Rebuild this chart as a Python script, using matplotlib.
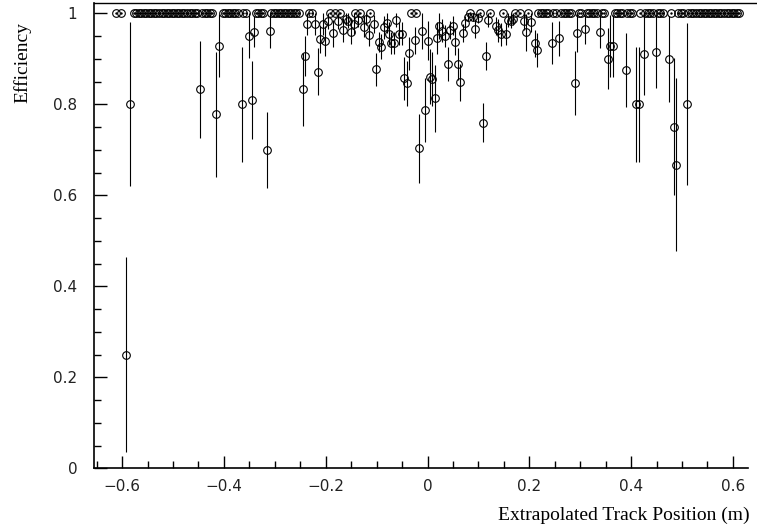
import matplotlib.pyplot as plt
import numpy as np
from matplotlib.ticker import MultipleLocator, FuncFormatter

# 5 mm bins in extrapolated track position
bin_width = 0.005
bin_lo, bin_hi = -0.615, 0.615

# position ranges (m) where every bin is fully efficient (eff = 1, zero error)
full_runs = [
    (-0.612, -0.612), (-0.6016, -0.6016), (-0.580, -0.4208), (-0.4057, -0.354),
    (-0.337, -0.3246), (-0.3075, -0.2525), (-0.2314, -0.2314), (-0.225, -0.225),
    (-0.2053, -0.2053), (-0.1902, -0.1902), (-0.1804, -0.1804), (-0.1713, -0.1713),
    (-0.1418, -0.1418), (-0.132, -0.132), (-0.1116, -0.1116), (-0.0318, -0.0318),
    (-0.022, -0.022), (0.0841, 0.0841), (0.0939, 0.0939), (0.1037, 0.1037),
    (0.1234, 0.1234), (0.1312, 0.1312), (0.1489, 0.1489), (0.1719, 0.1719),
    (0.1804, 0.1804), (0.187, 0.187), (0.1974, 0.1974), (0.2196, 0.2825),
    (0.2996, 0.3481), (0.3664, 0.4621), (0.477, 0.477), (0.4921, 0.6126),
]

# bins below full efficiency: position (m), efficiency, error
pos = [-0.592, -0.585, -0.446, -0.416, -0.4096, -0.365, -0.3507, -0.3455, -0.341,
       -0.316, -0.310, -0.245, -0.2407, -0.236, -0.2204, -0.2145, -0.211, -0.205,
       -0.2007, -0.1955, -0.1857, -0.176, -0.1654, -0.1607, -0.156, -0.151, -0.145,
       -0.1365, -0.1254, -0.120, -0.1156, -0.1058, -0.1005, -0.0959, -0.0914,
       -0.0855, -0.080, -0.0756, -0.071, -0.0658, -0.0613, -0.056, -0.050, -0.0455,
       -0.040, -0.0357, -0.0252, -0.016, -0.0108, -0.005, 0.0, 0.0043, 0.0088,
       0.0147, 0.0193, 0.0233, 0.0278, 0.035, 0.0396, 0.0442, 0.0495, 0.0547,
       0.0593, 0.0645, 0.0704, 0.0743, 0.079, 0.0888, 0.094, 0.0992, 0.1097,
       0.1143, 0.1195, 0.1346, 0.139, 0.1438, 0.1542, 0.1587, 0.1634, 0.1686,
       0.189, 0.1935, 0.204, 0.2106, 0.2145, 0.2446, 0.259, 0.289, 0.2943, 0.3088,
       0.3395, 0.354, 0.358, 0.365, 0.389, 0.4096, 0.415, 0.4247, 0.449, 0.474,
       0.4843, 0.4889, 0.5098]
eff = [0.25, 0.80, 0.833, 0.778, 0.929, 0.80, 0.951, 0.809, 0.960,
       0.70, 0.962, 0.833, 0.907, 0.976, 0.976, 0.872, 0.943, 0.976,
       0.940, 0.983, 0.956, 0.983, 0.963, 0.987, 0.984, 0.960, 0.977,
       0.985, 0.971, 0.987, 0.952, 0.976, 0.877, 0.938, 0.927,
       0.969, 0.978, 0.955, 0.934, 0.934, 0.985, 0.955, 0.955, 0.857,
       0.846, 0.912, 0.941, 0.703, 0.961, 0.787, 0.940, 0.861, 0.856,
       0.813, 0.946, 0.972, 0.962, 0.950, 0.888, 0.963, 0.973, 0.938,
       0.888, 0.848, 0.956, 0.978, 0.991, 0.991, 0.965, 0.989, 0.760,
       0.906, 0.985, 0.972, 0.963, 0.954, 0.955, 0.985, 0.984, 0.987,
       0.982, 0.958, 0.980, 0.934, 0.919, 0.934, 0.945, 0.847, 0.957, 0.965,
       0.959, 0.900, 0.929, 0.929, 0.875, 0.80, 0.80, 0.910, 0.916, 0.900,
       0.751, 0.667, 0.80]
err = [0.215, 0.18, 0.107, 0.138, 0.07, 0.127, 0.049, 0.086, 0.035,
       0.083, 0.038, 0.08, 0.044, 0.024, 0.024, 0.052, 0.03, 0.024,
       0.033, 0.017, 0.03, 0.017, 0.027, 0.013, 0.016, 0.028, 0.023,
       0.015, 0.022, 0.013, 0.024, 0.02, 0.036, 0.022, 0.027,
       0.025, 0.022, 0.025, 0.024, 0.024, 0.015, 0.025, 0.025, 0.048,
       0.05, 0.037, 0.03, 0.075, 0.039, 0.07, 0.042, 0.06, 0.06,
       0.073, 0.035, 0.028, 0.025, 0.025, 0.037, 0.02, 0.02, 0.03,
       0.035, 0.04, 0.02, 0.015, 0.009, 0.009, 0.02, 0.011, 0.043,
       0.031, 0.015, 0.02, 0.025, 0.025, 0.024, 0.015, 0.016, 0.013,
       0.018, 0.04, 0.02, 0.03, 0.037, 0.046, 0.038, 0.07, 0.043, 0.032,
       0.035, 0.067, 0.068, 0.068, 0.082, 0.127, 0.127, 0.09, 0.08, 0.095,
       0.15, 0.19, 0.178]

pos = np.array(pos)
eff = np.array(eff)
err = np.array(err)

# fully efficient bins: inside a run and not already holding a measured point
hw = bin_width / 2
centres = np.arange(bin_lo + hw, bin_hi, bin_width)
in_run = np.zeros(len(centres), dtype=bool)
for lo, hi in full_runs:
    in_run |= (centres >= lo - hw) & (centres <= hi + hw)
taken = np.array([np.any(np.abs(pos - c) < hw) for c in centres])
full_x = centres[in_run & ~taken]
full_y = np.ones(len(full_x))

fig = plt.figure(figsize=(7.57, 5.29), dpi=100)
ax = fig.add_axes([94 / 757, 60.7 / 529, (757 - 94) / 757, 465 / 529])

ax.vlines(pos, eff - err, eff + err, color='black', lw=0.8)
ax.plot(pos, eff, 'o', ms=5.5, mfc='none', mec='black', mew=0.8)
ax.plot(full_x, full_y, 'o', ms=5.5, mfc='none', mec='black', mew=0.8)
ax.plot(full_x, full_y, 's', ms=0.7, color='black')

x_left, x_axis_end, x_right = -0.6552, 0.6297, 0.6473
ax.set_xlim(x_left, x_right)
ax.set_ylim(0, 1.022)

ax.spines['right'].set_visible(False)
ax.spines['bottom'].set_bounds(x_left, x_axis_end)
ax.spines['bottom'].set_linewidth(1.2)
ax.spines['left'].set_linewidth(1.2)
ax.spines['top'].set_linewidth(1.0)

ax.xaxis.set_major_locator(MultipleLocator(0.2))
ax.xaxis.set_minor_locator(MultipleLocator(0.05))
ax.yaxis.set_major_locator(MultipleLocator(0.2))
ax.yaxis.set_minor_locator(MultipleLocator(0.05))


def tick_fmt(v, p):
    s = '%g' % round(v, 3)
    if s == '-0':
        s = '0'
    return s.replace('-', '\u2212')


ax.xaxis.set_major_formatter(FuncFormatter(tick_fmt))
ax.yaxis.set_major_formatter(FuncFormatter(tick_fmt))
ax.tick_params(which='both', direction='in', top=False, right=False, width=1.0)
ax.tick_params(which='major', length=9)
ax.tick_params(which='minor', length=4.8)
ax.tick_params(axis='x', which='major', pad=8)
ax.tick_params(axis='y', which='major', pad=12)
for lab in ax.get_xticklabels() + ax.get_yticklabels():
    lab.set_family('DejaVu Sans')
    lab.set_fontsize(11)
    lab.set_color('#222222')

fig.text(750 / 757, 1 - 520 / 529, 'Extrapolated Track Position (m)',
         ha='right', va='baseline', family='Liberation Serif', size=14)
fig.text(22 / 757, 1 - 22 / 529, 'Efficiency', rotation=90,
         ha='center', va='top', family='Liberation Serif', size=14)

fig.savefig('out.png', dpi=100)
